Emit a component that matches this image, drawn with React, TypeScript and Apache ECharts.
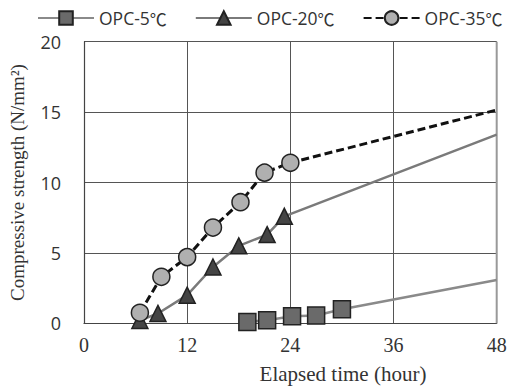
import React, { useEffect, useRef } from "react";
import * as echarts from "echarts";

// Elapsed time (hour) and compressive strength (N/mm²) for each curing temperature.
// The last point of each series is the trend end at 48 h (drawn without a marker).
const hours5 = [19, 21.3, 24.2, 27, 30, 48];
const strength5 = [0.1, 0.22, 0.5, 0.55, 1.0, 3.07];

const hours20 = [6.5, 8.6, 12, 15, 18, 21.3, 23.3, 48];
const strength20 = [0.2, 0.7, 2.0, 4.0, 5.5, 6.3, 7.6, 13.4];

const hours35 = [6.5, 9, 12, 15, 18.2, 21, 24, 48];
const strength35 = [0.75, 3.3, 4.7, 6.8, 8.6, 10.7, 11.4, 15.15];

const seriesNames = ["OPC-5℃", "OPC-20℃", "OPC-35℃"];
const xTicks = [0, 12, 24, 36, 48];
const yTicks = [0, 5, 10, 15, 20];

const SERIF = '"Liberation Serif", "Times New Roman", serif';
const SANS = '"Open Sans", sans-serif';
const CJK = '"Noto Sans CJK JP", sans-serif';

function toPoints(xs: number[], ys: number[]) {
  return xs.map((x, i) => {
    const last = i === xs.length - 1;
    return last ? { value: [x, ys[i]], symbol: "none" } : { value: [x, ys[i]] };
  });
}

// Split the degree sign off so it is set in the CJK face.
function legendLabel(name: string) {
  const idx = name.indexOf("℃");
  if (idx < 0) return `{t|${name}}`;
  return `{t|${name.slice(0, idx)}}{c|℃}`;
}

export default function App() {
  const ref = useRef<HTMLDivElement>(null);

  useEffect(() => {
    if (!ref.current) return;
    const chart = echarts.init(ref.current, undefined, { renderer: "svg" });

    chart.setOption({
      animation: false,
      backgroundColor: "#ffffff",
      legend: {
        left: 32,
        top: 4,
        itemWidth: 56,
        itemHeight: 17,
        itemGap: 28,
        formatter: legendLabel,
        textStyle: {
          fontFamily: SANS,
          fontSize: 17.5,
          color: "#333",
          rich: {
            t: { fontFamily: SANS, fontSize: 17.5, color: "#333" },
            c: { fontFamily: CJK, fontSize: 17, color: "#333" },
          },
        },
        data: seriesNames,
      },
      grid: { left: 83.5, right: 20.3, top: 41.7, bottom: 65.7, containLabel: false },
      xAxis: {
        type: "value",
        min: xTicks[0],
        max: xTicks[xTicks.length - 1],
        interval: 12,
        axisLine: { show: true, lineStyle: { color: "#444", width: 1.2 } },
        axisTick: { show: false },
        splitLine: { show: true, lineStyle: { color: "#555", width: 1 } },
        axisLabel: { fontFamily: SERIF, fontSize: 20, color: "#333", margin: 12 },
      },
      yAxis: {
        type: "value",
        min: yTicks[0],
        max: yTicks[yTicks.length - 1],
        interval: 5,
        name: "Compressive strength (N/mm²)",
        nameLocation: "middle",
        nameGap: 57,
        nameTextStyle: { fontFamily: SERIF, fontSize: 19, color: "#333" },
        axisLine: { show: true, lineStyle: { color: "#444", width: 1.2 } },
        axisTick: { show: false },
        splitLine: { show: true, lineStyle: { color: "#555", width: 1 } },
        axisLabel: { fontFamily: SANS, fontSize: 18, color: "#333", margin: 23 },
      },
      graphic: [
        {
          type: "text",
          x: 343,
          y: 374,
          style: {
            text: "Elapsed time (hour)",
            font: `21px ${SERIF}`,
            fill: "#333",
            align: "center",
            verticalAlign: "middle",
          },
        },
        {
          type: "line",
          shape: { x1: 496.7, y1: 41.7, x2: 496.7, y2: 323.3 },
          style: { stroke: "#999", lineWidth: 2 },
          z: 1,
        },
      ],
      series: [
        {
          name: seriesNames[0],
          type: "line",
          data: toPoints(hours5, strength5),
          symbol: "rect",
          symbolSize: 17,
          lineStyle: { color: "#8a8a8a", width: 2.5 },
          itemStyle: { color: "#6a6a6a", borderColor: "#222", borderWidth: 1.5 },
          z: 3,
        },
        {
          name: seriesNames[1],
          type: "line",
          data: toPoints(hours20, strength20),
          symbol: "triangle",
          symbolSize: 16,
          lineStyle: { color: "#7a7a7a", width: 2.5 },
          itemStyle: { color: "#444", borderColor: "#222", borderWidth: 1.5 },
          z: 4,
        },
        {
          name: seriesNames[2],
          type: "line",
          data: toPoints(hours35, strength35),
          symbol: "circle",
          symbolSize: 17,
          lineStyle: { color: "#111", width: 3, type: [8, 4] },
          itemStyle: { color: "#b0b0b0", borderColor: "#222", borderWidth: 1.5 },
          z: 5,
        },
      ],
    });

    return () => chart.dispose();
  }, []);

  return <div ref={ref} style={{ width: 517, height: 389, position: "absolute", left: 0, top: 0 }} />;
}
